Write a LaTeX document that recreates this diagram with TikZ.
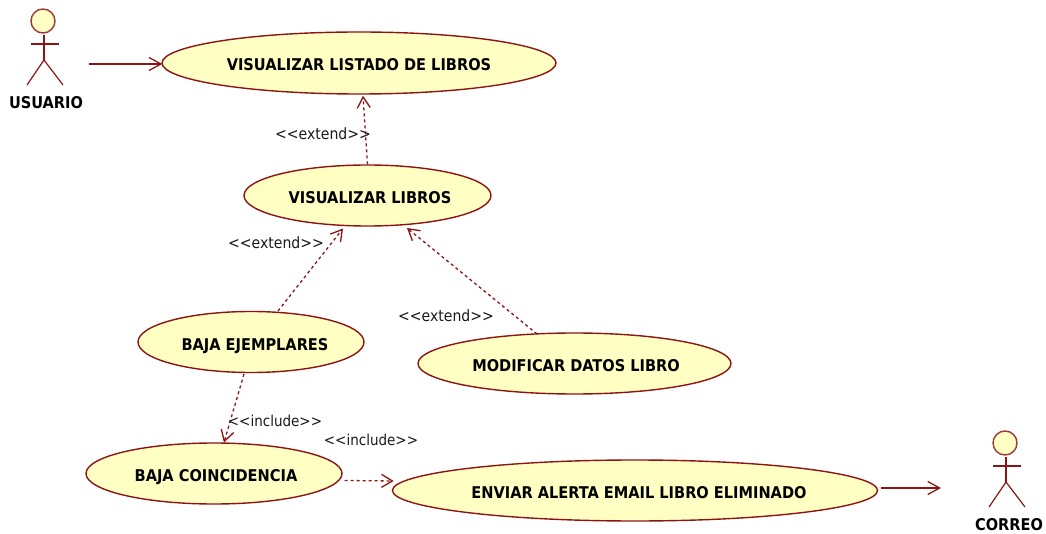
\documentclass[tikz,border=0pt]{standalone}
\usepackage{fontspec}
\setmainfont{DejaVu Sans Condensed}
\usetikzlibrary{shapes.geometric,arrows.meta}
\definecolor{umlline}{HTML}{8E1414}
\definecolor{umlfill}{HTML}{FFFFC4}
\newcommand{\uctext}[1]{\raisebox{-2pt}[12pt][0pt]{#1}}
\tikzset{
  usecase/.style={ellipse,draw=umlline,fill=umlfill,line width=1.4pt,inner sep=0pt,font=\fontsize{16.2}{18}\selectfont\bfseries,text=black},
  head/.style={circle,draw=umlline!85!white,fill=umlfill,line width=1.4pt,minimum size=24pt,inner sep=0pt},
  limb/.style={draw=umlline,line width=1.2pt},
  actorname/.style={font=\fontsize{16.2}{18}\selectfont\bfseries,text=black,inner sep=0pt},
  stereo/.style={font=\fontsize{15.6}{18}\selectfont,text=black!90,inner sep=0pt},
  stereoinc/.style={font=\fontsize{15}{18}\selectfont,text=black!90,inner sep=0pt},
  assoc/.style={draw=umlline,line width=1.25pt,-{Straight Barb[length=12pt,width=13pt,line width=1.25pt]}},
  dep/.style={draw=umlline,line width=1.3pt,dash pattern=on 3pt off 3pt,-{Straight Barb[length=11pt,width=13pt,line width=1.3pt]}}
}
\begin{document}
\begin{tikzpicture}[x=1pt,y=-1pt]
\useasboundingbox (0,0) rectangle (1046,534);
\node[usecase,minimum width=394pt,minimum height=62pt] (e1) at (359,63) {\uctext{VISUALIZAR LISTADO DE LIBROS}};
\node[usecase,minimum width=247pt,minimum height=61pt] (e2) at (367.5,195.5) {\hspace*{5pt}\uctext{VISUALIZAR LIBROS}};
\node[usecase,minimum width=226pt,minimum height=61pt] (e3) at (251,342) {\hspace*{8pt}\uctext{BAJA EJEMPLARES}};
\node[usecase,minimum width=313pt,minimum height=61pt] (e4) at (574.5,363.5) {\hspace*{3pt}\uctext{MODIFICAR DATOS LIBRO}};
\node[usecase,minimum width=256pt,minimum height=61pt] (e5) at (214,473.5) {\hspace*{4pt}\uctext{BAJA COINCIDENCIA}};
\node[usecase,minimum width=484pt,minimum height=61pt] (e6) at (635,490.5) {\hspace*{8pt}\uctext{ENVIAR ALERTA EMAIL LIBRO ELIMINADO}};
% actors
\node[head] (h1) at (43,21) {};
\coordinate (n1) at (44,35);
\coordinate (w1) at (44,60);
\draw[limb] (n1) -- (w1);
\draw[limb] (31,44) -- (59,44);
\draw[limb] (27,85) -- (w1) -- (63,85);
\node[actorname] (a1) at (46,103) {USUARIO};
\node[head] (h2) at (1005,443) {};
\coordinate (n2) at (1006,457);
\coordinate (w2) at (1006,482);
\draw[limb] (n2) -- (w2);
\draw[limb] (993,466) -- (1021,466);
\draw[limb] (989,507) -- (w2) -- (1025,507);
\node[actorname] (a2) at (1009,525) {CORREO};
% connectors
\coordinate (s1) at (89,64);
\coordinate (t2) at (941,488);
\draw[assoc] (s1) -- ([shift={(1,0)}]e1.west |- s1);
\draw[assoc] ([shift={(3,-2.5)}]e6.east) -- (t2);
\draw[dep] (e2.north) -- ([shift={(4,1)}]e1.south);
\draw[dep] ([shift={(27,-31)}]e3.center) -- ([shift={(-24.5,33)}]e2.center);
\draw[dep] ([shift={(-37.5,-29.5)}]e4.center) -- ([shift={(39.5,32.5)}]e2.center);
\draw[dep] ([shift={(-7,32)}]e3.center) -- ([shift={(10,-31)}]e5.center);
\draw[dep] ([shift={(2,7)}]e5.east) -- ([shift={(2,-9.5)}]e6.west);
% labels
\node[stereo] (l1) at (323,134) {<{}<{}extend>{}>};
\node[stereo] (l2) at (276,243) {<{}<{}extend>{}>};
\node[stereo] (l3) at (446,316) {<{}<{}extend>{}>};
\node[stereoinc] (l4) at (275,421) {<{}<{}include>{}>};
\node[stereoinc] (l5) at (371,440) {<{}<{}include>{}>};
\end{tikzpicture}
\end{document}
